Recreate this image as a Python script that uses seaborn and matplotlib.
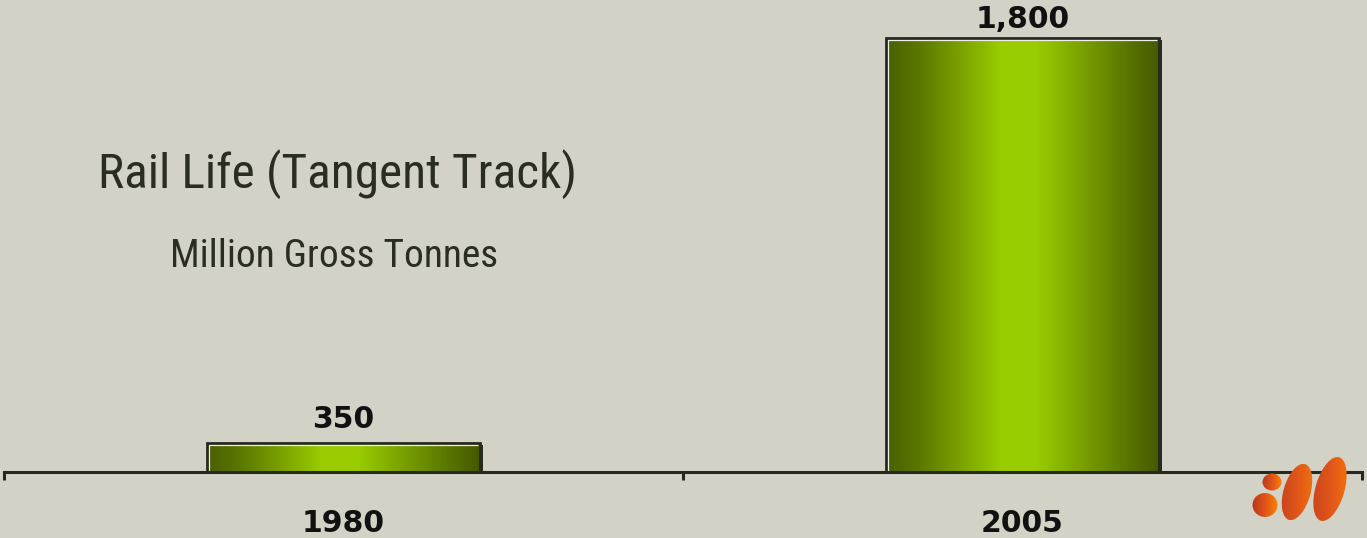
import numpy as np
import pandas as pd
import matplotlib
matplotlib.use("Agg")
import matplotlib.pyplot as plt
from matplotlib.colors import LinearSegmentedColormap
from matplotlib.patches import Rectangle, Ellipse
import seaborn as sns

# ---- data ----
years = ["1980", "2005"]
rail_life_mgt = [350, 1800]
value_labels = ["350", "1,800"]
title = "Rail Life (Tangent Track)"
subtitle = "Million Gross Tonnes"

# ---- style ----
BG = "#d3d2c6"
INK = "#25291f"
W, H, DPI = 1367, 538, 100

sns.set_theme(style="white")
plt.rcParams["font.family"] = ["DejaVu Sans"]

fig = plt.figure(figsize=(W / DPI, H / DPI), dpi=DPI, facecolor=BG)
ax = fig.add_axes([4 / W, (H - 472) / H, 1358 / W, 472 / H])
ax.set_facecolor(BG)

df = pd.DataFrame({"year": years, "mgt": rail_life_mgt})
sns.barplot(data=df, x="year", y="mgt", ax=ax, width=0.403, color="#99cc00",
            edgecolor=INK, linewidth=2.0, saturation=1)

YMIN, YMAX = 246, 1936
ax.set_xlim(-0.5, 1.5)
ax.set_ylim(YMIN, YMAX)

green = LinearSegmentedColormap.from_list(
    "g", [(0, "#4a5f00"), (0.12, "#5b7700"), (0.42, "#99cc00"), (0.55, "#99cc00"),
          (0.88, "#5a7600"), (1, "#465800")])

fig.canvas.draw()
px_x = ax.transData.transform((1, 0))[0] - ax.transData.transform((0, 0))[0]
px_y = ax.transData.transform((0, 1))[1] - ax.transData.transform((0, 0))[1]

grad = np.linspace(0, 1, 256)[None, :]
for p in list(ax.patches):
    x0, y0, w, h = p.get_x(), p.get_y(), p.get_width(), p.get_height()
    top = y0 + h
    p.set_facecolor("none")
    p.set_zorder(4)
    im = ax.imshow(grad, cmap=green, aspect="auto", origin="lower",
                   extent=(x0, x0 + w, YMIN, top), zorder=3, interpolation="bicubic")
    im.set_clip_path(Rectangle((x0, YMIN), w, top - YMIN, transform=ax.transData))
    # inner light highlight along top and left
    dx, dy = 2.5 / px_x, 2.5 / px_y
    ax.plot([x0 + dx, x0 + dx, x0 + w - dx], [YMIN, top - dy, top - dy],
            color="#eeeee6", lw=0.9, zorder=5, solid_capstyle="butt")
    # darker shadow edge on the right
    ax.plot([x0 + w + 1.2 / px_x] * 2, [YMIN, top - 2 / px_y],
            color=INK, lw=1.4, zorder=4, solid_capstyle="butt")

ax.set_xlim(-0.5, 1.5)
ax.set_ylim(YMIN, YMAX)

# value labels
pads = [15, 10]
for i, (v, lab) in enumerate(zip(rail_life_mgt, value_labels)):
    ax.annotate(lab, (i, v), xytext=(0, pads[i]), textcoords="offset pixels",
                ha="center", va="baseline", fontsize=21.5, fontweight="bold",
                color="#111111", zorder=6)

# axes styling
for s in ["left", "right", "top"]:
    ax.spines[s].set_visible(False)
ax.spines["bottom"].set_color(INK)
ax.spines["bottom"].set_linewidth(2.2)
ax.spines["bottom"].set_zorder(6)
ax.set_axisbelow(False)
ax.xaxis.set_zorder(6)
ax.set_yticks([])
ax.set_xlabel("")
ax.set_ylabel("")
ax.set_xticks([0, 1], labels=years)
ax.set_xticks([-0.5, 0.5, 1.5], minor=True)
ax.tick_params(axis="x", which="major", length=0, pad=27, labelsize=21.5,
               labelcolor="#111111")
for t in ax.get_xticklabels():
    t.set_fontweight("bold")
ax.tick_params(axis="x", which="minor", bottom=True, length=6, width=2.2,
               color=INK, direction="out")

# title texts
narrow = ["Liberation Sans Narrow", "Roboto Condensed", "Sofia Sans Condensed",
          "DejaVu Sans"]
fig.text(337 / W, 1 - 188 / H, title, ha="center", va="baseline",
         fontsize=35.5, color="#2a2d22", family=narrow)
fig.text(334 / W, 1 - 267 / H, subtitle, ha="center", va="baseline",
         fontsize=28.4, color="#2a2d22", family=narrow)

# logo overlay
lg = fig.add_axes([0, 0, 1, 1], zorder=10)
lg.set_xlim(0, W)
lg.set_ylim(H, 0)
lg.axis("off")
orange = LinearSegmentedColormap.from_list("o", ["#b8341c", "#e0561a", "#ff8a00"])
blobs = [((1272, 482), 19, 17, 0), ((1265, 505), 25, 24, 0),
         ((1297, 492), 27, 58, 16), ((1330, 489), 29, 66, 16)]
for (cx, cy), bw, bh, ang in blobs:
    s = max(bw, bh) / 2 + 2
    im = lg.imshow(np.linspace(0, 1, 64)[None, :], cmap=orange, aspect="auto",
                   extent=(cx - s, cx + s, cy + s, cy - s), interpolation="bicubic")
    im.set_clip_path(Ellipse((cx, cy), bw, bh, angle=ang, transform=lg.transData))
lg.set_xlim(0, W)
lg.set_ylim(H, 0)

fig.savefig("out.png", dpi=DPI, facecolor=BG)
